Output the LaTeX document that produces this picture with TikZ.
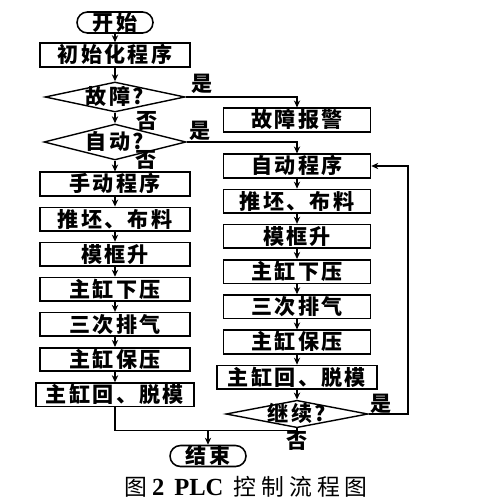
\documentclass[tikz,border=0pt]{standalone}
\usepackage{fontspec}
\newfontfamily\cjk{Noto Sans CJK SC}[LetterSpace=11]
\newfontfamily\cjkcap{Noto Sans CJK SC}[LetterSpace=22]
\newfontfamily\capsf{Liberation Serif}
\usepackage{tikz}
\usetikzlibrary{shapes.geometric,arrows.meta,calc}

\begin{document}
\begin{tikzpicture}[x=0.02cm,y=-0.02cm,
        box/.style={draw,line width=0.9pt,minimum width=2.94cm,minimum height=0.47cm,inner sep=0pt,text height=9pt,text depth=0pt,font=\cjk\bfseries\fontsize{12}{12}\selectfont},
        term/.style={box,minimum width=1.52cm,minimum height=0.42cm,rounded corners=0.21cm},
        test/.style={draw,diamond,line width=0.8pt,inner sep=0pt,text height=9pt,text depth=0pt,font=\cjk\bfseries\fontsize{12}{12}\selectfont},
        lbl/.style={inner sep=0pt,font=\cjk\bfseries\fontsize{12}{12}\selectfont},
        arr/.style={line width=0.7pt,{arrows = {-Stealth[length=4pt,width=3.6pt]}}},
        wire/.style={line width=0.7pt}]
        \useasboundingbox[fill=white] (0,0) rectangle (500,500);
        \node[term] (start) at (115,22.5) {开始};
        \node[box,minimum width=3cm,minimum height=0.48cm] (init) at (115,55) {初始化程序};
        \node[test,aspect=4.6,minimum width=2.8cm,minimum height=0.6cm] (fault) at (115,97) {故障?};
        \node[box] (alarm) at (297,120) {故障报警};
        \node[test,aspect=3.9,minimum width=2.84cm,minimum height=0.72cm] (auto) at (115,142) {自动?};
        \foreach \t [count=\i] in {手动程序,推坯、布料,模框升,主缸下压,三次排气,主缸保压}
            \node[box,minimum width=3cm] (l\i) at (115,184+35.1*\i-35.1) {\t};
        \node[box,minimum width=3.16cm] (l7) at (115,394.8) {主缸回、脱模};
        \foreach \t [count=\i] in {自动程序,推坯、布料,模框升,主缸下压,三次排气,主缸保压}
            \node[box] (r\i) at (297,166+35.2*\i-35.2) {\t};
        \node[box,minimum width=3.2cm] (r7) at (297,377.2) {主缸回、脱模};
        \node[test,aspect=5,minimum width=2.84cm,minimum height=0.54cm] (cont) at (297,414) {继续?};
        \node[term] (end) at (208,456) {结束};
        \node[lbl] (y1) at (202,84) {是};
        \node[lbl] (n1) at (147,121) {否};
        \node[lbl] (y2) at (200,131) {是};
        \node[lbl] (n2) at (146,160) {否};
        \node[lbl] (y3) at (381,404) {是};
        \node[lbl] (n3) at (297,441) {否};
        \node[inner sep=0pt,font=\cjkcap\fontsize{13}{13}\selectfont] (cap) at (246,487)
            {图\hspace{0.1cm}{\capsf\bfseries\fontsize{14}{14}\selectfont 2}\hspace{0.2cm}{\capsf\bfseries\fontsize{14}{14}\selectfont PLC}\hspace{0.2cm}控制流程图};
        \draw[arr] (start) -- (init);
        \draw[arr] (init) -- (fault);
        \draw[arr] (fault.east) -| (alarm.north);
        \draw[arr] (fault) -- (auto);
        \draw[arr] (auto.east) -| (r1.north);
        \draw[arr] (auto) -- (l1);
        \foreach \i [evaluate=\i as \j using int(\i+1)] in {1,...,6}
            {\draw[arr] (l\i) -- (l\j); \draw[arr] (r\i) -- (r\j);}
        \draw[arr] (r7) -- (cont);
        \coordinate (back) at (408,166);
        \draw[arr] (cont.east) -| (back) -- (r1.east);
        \coordinate (join) at (208,430.5);
        \draw[wire] (l7.south) |- (join) -| (cont.south);
        \draw[arr] (join) -- (end);
    \end{tikzpicture}
\end{document}
